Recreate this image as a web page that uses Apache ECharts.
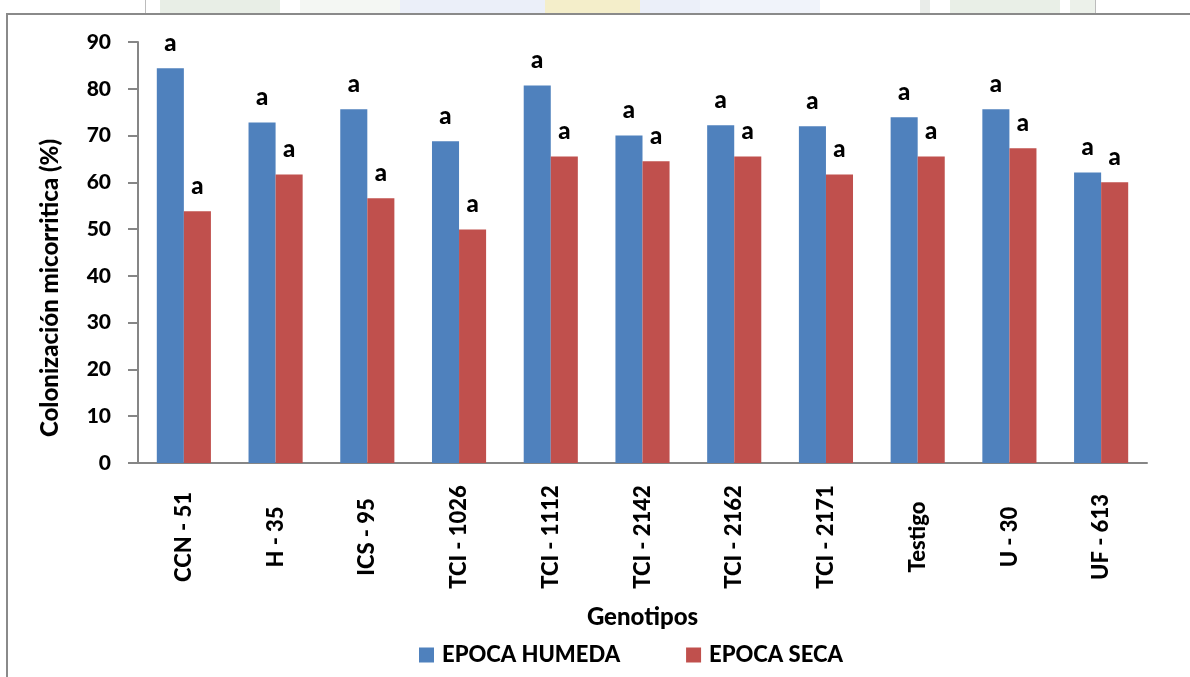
<!DOCTYPE html>
<html>
<head>
<meta charset="utf-8">
<script src="https://cdn.jsdelivr.net/npm/echarts@6/dist/echarts.min.js"></script>
<style>
  html, body { margin: 0; padding: 0; background: #ffffff; }
  #chart { width: 1190px; height: 677px; }
</style>
</head>
<body>
<div id="chart"></div>
<script>
// Genotypes and mycorrhizal colonisation (%) per season
const genotipos = ['CCN - 51', 'H - 35', 'ICS - 95', 'TCI - 1026', 'TCI - 1112', 'TCI - 2142',
                   'TCI - 2162', 'TCI - 2171', 'Testigo', 'U - 30', 'UF - 613'];
const epocaHumeda = [84.4, 72.8, 75.6, 68.8, 80.7, 70.0, 72.2, 72.0, 73.9, 75.6, 62.1];
const epocaSeca   = [53.8, 61.7, 56.6, 49.9, 65.5, 64.5, 65.5, 61.7, 65.5, 67.3, 60.0];
// significance letters shown above each bar
const letrasHumeda = ['a', 'a', 'a', 'a', 'a', 'a', 'a', 'a', 'a', 'a', 'a'];
const letrasSeca   = ['a', 'a', 'a', 'a', 'a', 'a', 'a', 'a', 'a', 'a', 'a'];
const yTicks = { min: 0, max: 90, interval: 10 };

const FONT = 'Lato, "Open Sans", sans-serif';
const WEIGHT = 900;
const AXIS_GREY = '#868686';

const chart = echarts.init(document.getElementById('chart'), null, { renderer: 'canvas' });

function letterLabel(letters) {
  return {
    show: true,
    position: 'top',
    distance: 13,
    formatter: p => letters[p.dataIndex],
    color: '#000',
    fontFamily: FONT,
    fontWeight: WEIGHT,
    fontSize: 24
  };
}

// faint page decoration strip above the framed chart
const stripe = [
  { x: 145, w: 1, c: 'rgba(160,160,160,0.7)' },
  { x: 160, w: 120, c: 'rgba(205,218,200,0.45)' },
  { x: 300, w: 100, c: 'rgba(228,234,224,0.4)' },
  { x: 400, w: 300, c: 'rgba(210,220,242,0.45)' },
  { x: 545, w: 95, c: 'rgba(250,236,170,0.6)' },
  { x: 700, w: 120, c: 'rgba(218,225,242,0.4)' },
  { x: 920, w: 10, c: 'rgba(212,217,212,0.5)' },
  { x: 950, w: 110, c: 'rgba(212,224,208,0.5)' },
  { x: 1070, w: 25, c: 'rgba(218,228,214,0.5)' },
  { x: 1095, w: 1, c: 'rgba(160,160,160,0.7)' }
];

const graphics = stripe.map(s => ({
  type: 'rect',
  shape: { x: s.x, y: 0, width: s.w, height: 13 },
  style: { fill: s.c },
  silent: true
}));
// frame around the chart
graphics.push({
  type: 'polyline',
  shape: { points: [[7, 677], [7, 14], [1190, 14]] },
  style: { stroke: '#8a8a8a', lineWidth: 2, fill: null },
  silent: true
});

chart.setOption({
  backgroundColor: '#ffffff',
  animation: false,
  graphic: graphics,
  grid: { left: 138, right: 43, top: 42, bottom: 214, containLabel: false },
  legend: {
    left: 414,
    top: 639,
    itemWidth: 15,
    itemHeight: 15,
    itemGap: 66,
    icon: 'rect',
    textStyle: { fontFamily: FONT, fontWeight: WEIGHT, fontSize: 22, color: '#000', padding: [0, 0, 0, 3] },
    data: ['EPOCA HUMEDA', 'EPOCA SECA']
  },
  xAxis: {
    type: 'category',
    data: genotipos,
    name: 'Genotipos',
    nameLocation: 'middle',
    nameGap: 142,
    nameTextStyle: { fontFamily: FONT, fontWeight: WEIGHT, fontSize: 24, color: '#000' },
    axisLine: { lineStyle: { color: AXIS_GREY, width: 2 } },
    axisTick: { show: false },
    axisLabel: {
      rotate: 90,
      align: 'center',
      margin: 74,
      interval: 0,
      fontFamily: FONT,
      fontWeight: WEIGHT,
      fontSize: 22,
      color: '#000'
    },
    splitLine: { show: false }
  },
  yAxis: {
    type: 'value',
    min: yTicks.min,
    max: yTicks.max,
    interval: yTicks.interval,
    name: 'Colonización micorritica (%)',
    nameLocation: 'middle',
    nameGap: 76,
    nameRotate: 90,
    nameTextStyle: { fontFamily: FONT, fontWeight: WEIGHT, fontSize: 24, color: '#000', padding: [0, 71, 0, 0] },
    axisLine: { show: true, lineStyle: { color: AXIS_GREY, width: 2 } },
    axisTick: { show: true, length: 10, lineStyle: { color: AXIS_GREY, width: 2 } },
    axisLabel: { margin: 27, fontFamily: FONT, fontWeight: WEIGHT, fontSize: 21, color: '#000' },
    splitLine: { show: false }
  },
  series: [
    {
      name: 'EPOCA HUMEDA',
      type: 'bar',
      data: epocaHumeda,
      itemStyle: { color: '#4F81BD' },
      barGap: '0%',
      barCategoryGap: '41%',
      label: letterLabel(letrasHumeda)
    },
    {
      name: 'EPOCA SECA',
      type: 'bar',
      data: epocaSeca,
      itemStyle: { color: '#C0504D' },
      barGap: '0%',
      barCategoryGap: '41%',
      label: letterLabel(letrasSeca)
    }
  ]
});
</script>
</body>
</html>
